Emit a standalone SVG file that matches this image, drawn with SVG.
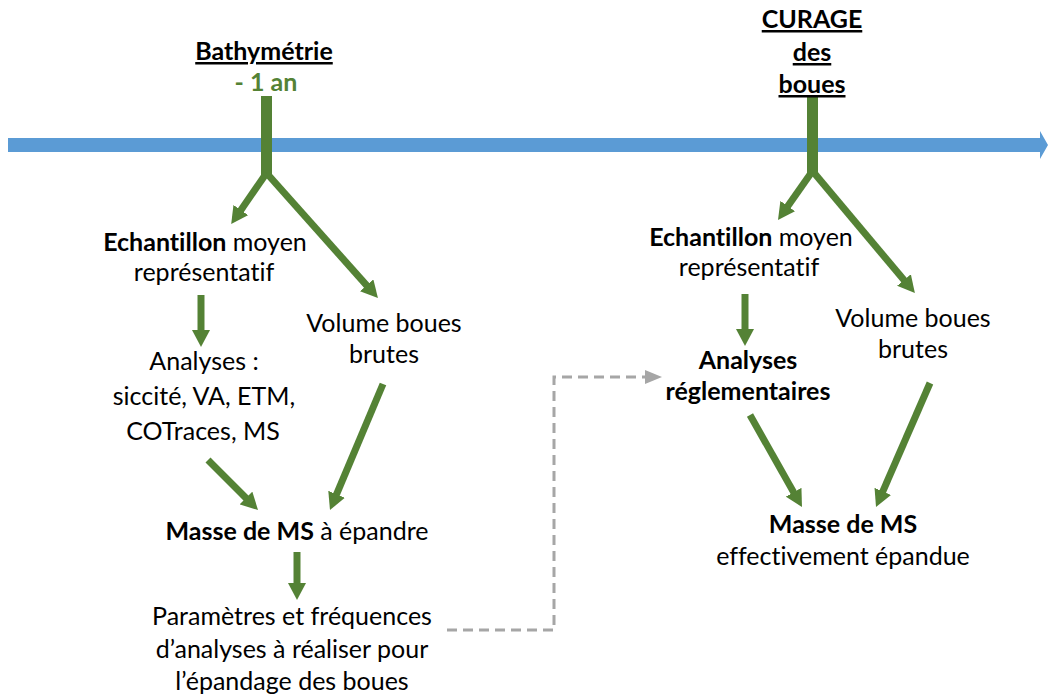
<svg xmlns="http://www.w3.org/2000/svg" width="1048" height="698" viewBox="0 0 1048 698">
<style>
text{font-family:Lato,"Open Sans","Liberation Sans",sans-serif;font-size:25px;fill:#000;text-anchor:middle;font-variant-ligatures:none}
.b{font-weight:bold}
.u{text-decoration:underline}
.g{fill:#548235;font-weight:bold}
.ga{stroke:#548235;stroke-width:7;fill:none;marker-end:url(#ah)}
.st{stroke:#548235;stroke-width:11;fill:none}
</style>
<defs>
<marker id="ah" viewBox="0 0 17 18" markerWidth="17" markerHeight="18" refX="1" refY="9" orient="auto" markerUnits="userSpaceOnUse"><path d="M0,0 L17,9 L0,18 z" fill="#548235"/></marker>
<marker id="gh" viewBox="0 0 17 14" markerWidth="17" markerHeight="14" refX="1" refY="7" orient="auto" markerUnits="userSpaceOnUse"><path d="M0,0 L17,7 L0,14 z" fill="#A6A6A6"/></marker>
</defs>
<g id="timeline">
<path d="M8,138 H1040 V131 L1048,145 L1040,159 V152 H8 z" fill="#5B9BD5"/>
</g>
<g id="connectors">
<line class="st" x1="266.5" y1="96" x2="266.5" y2="176"/>
<line class="st" x1="812.5" y1="97" x2="812.5" y2="174"/>
<line class="ga" x1="266.5" y1="173" x2="240.3" y2="210.9"/>
<line class="ga" x1="266.5" y1="173" x2="367.3" y2="286.1"/>
<line class="ga" x1="812.5" y1="171" x2="787.2" y2="206.9"/>
<line class="ga" x1="812.5" y1="171" x2="904.6" y2="280.8"/>
<line class="ga" x1="201" y1="295" x2="201" y2="331"/>
<line class="ga" x1="383" y1="384" x2="336.2" y2="495.2"/>
<line class="ga" x1="208" y1="460" x2="246.7" y2="498.7"/>
<line class="ga" x1="297" y1="552" x2="297" y2="584"/>
<line class="ga" x1="745" y1="294" x2="745" y2="330"/>
<line class="ga" x1="750" y1="415" x2="794.1" y2="493.1"/>
<line class="ga" x1="930" y1="383" x2="882.4" y2="492.3"/>
<path d="M447,630 H554 V377 H646" fill="none" stroke="#A6A6A6" stroke-width="3" stroke-dasharray="10 6" marker-end="url(#gh)"/>
</g>
<g id="bathymetrie">
<text x="264" y="60" class="b u">Bathymétrie</text>
<text x="266" y="91" class="g">- 1 an</text>
</g>
<g id="curage">
<text x="812" y="28" class="b u">CURAGE</text>
<text x="812" y="61" class="b u">des</text>
<text x="812" y="93" class="b u">boues</text>
</g>
<g id="echantillon1">
<text x="205" y="251"><tspan class="b">Echantillon</tspan> moyen</text>
<text x="204" y="281">représentatif</text>
</g>
<g id="analyses1">
<text x="204" y="370">Analyses :</text>
<text x="204" y="405">siccité, VA, ETM,</text>
<text x="203" y="440">COTraces, MS</text>
</g>
<g id="volume1">
<text x="384" y="332">Volume boues</text>
<text x="384" y="363">brutes</text>
</g>
<g id="masse1">
<text x="297" y="540"><tspan class="b">Masse de MS</tspan> à épandre</text>
</g>
<g id="parametres">
<text x="292" y="625">Paramètres et fréquences</text>
<text x="292" y="658">d’analyses à réaliser pour</text>
<text x="292" y="690">l’épandage des boues</text>
</g>
<g id="echantillon2">
<text x="751" y="246"><tspan class="b">Echantillon</tspan> moyen</text>
<text x="749" y="276">représentatif</text>
</g>
<g id="analyses2">
<text x="748" y="369" class="b">Analyses</text>
<text x="748" y="400" class="b">réglementaires</text>
</g>
<g id="volume2">
<text x="913" y="327">Volume boues</text>
<text x="913" y="358">brutes</text>
</g>
<g id="masse2">
<text x="843" y="533" class="b">Masse de MS</text>
<text x="843" y="565">effectivement épandue</text>
</g>
</svg>
